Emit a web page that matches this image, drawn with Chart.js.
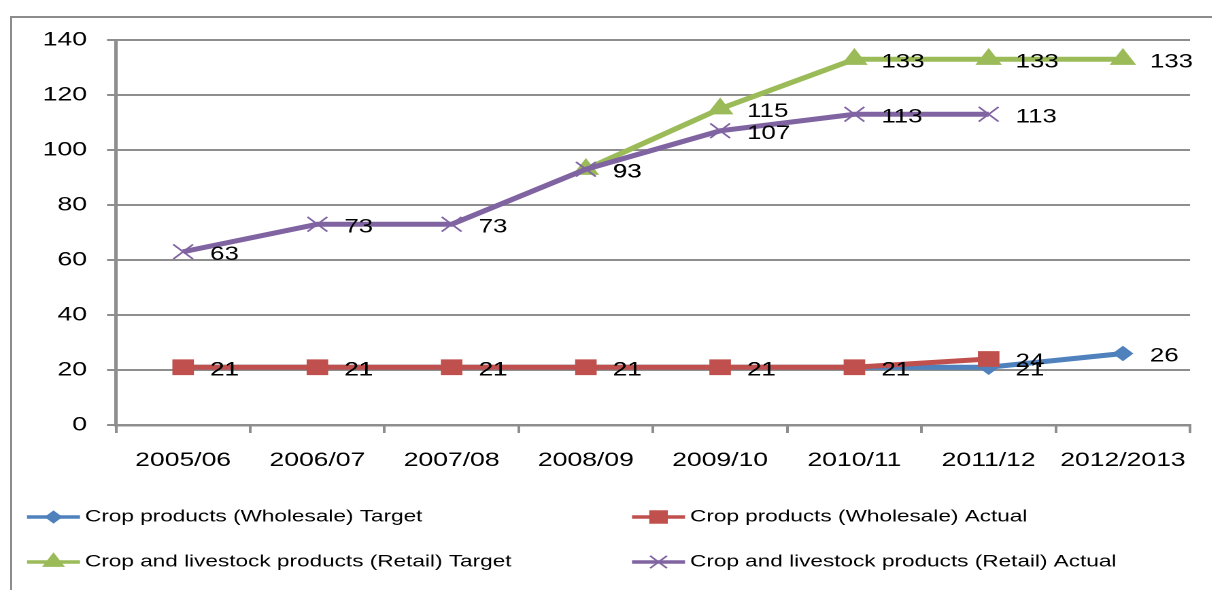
<!DOCTYPE html>
<html>
<head>
<meta charset="utf-8">
<script src="https://cdn.jsdelivr.net/npm/chart.js@4.4.0/dist/chart.umd.min.js"></script>
<style>
html, body { margin: 0; padding: 0; background: #fff; overflow: hidden; }
#frame { position: absolute; left: 10px; top: 16px; width: 1300px; height: 700px;
         border-left: 2px solid #8c8c8c; border-top: 2px solid #8c8c8c; }
#wrap { position: absolute; left: 0; top: 0; height: 590px; transform-origin: 0 0; }
</style>
</head>
<body>
<div id="frame"></div>
<div id="wrap"><canvas id="chart"></canvas></div>
<script>
const categories = ['2005/06', '2006/07', '2007/08', '2008/09', '2009/10', '2010/11', '2011/12', '2012/2013']
const wholesaleTarget = [21, 21, 21, 21, 21, 21, 21, 26]
const wholesaleActual = [21, 21, 21, 21, 21, 21, 24, null]
const retailTarget = [null, null, null, 93, 115, 133, 133, 133]
const retailActual = [63, 73, 73, 93, 107, 113, 113, null]
const yTicks = [0, 20, 40, 60, 80, 100, 120, 140]

// the original picture is stretched sideways, so draw narrow and scale up
const S = 1.36
const W = 1212 / S
const wrap = document.getElementById('wrap')
wrap.style.width = W + 'px'
wrap.style.transform = 'scaleX(' + S + ')'

const FONT = '"Liberation Sans", Arial, sans-serif'
const GRID = '#8e8e8e'

const valueLabels = {
    id: 'valueLabels',
    afterDatasetsDraw(chart) {
        const ctx = chart.ctx
        ctx.save()
        ctx.font = '19px ' + FONT
        ctx.fillStyle = '#000'
        ctx.textBaseline = 'middle'
        ctx.textAlign = 'left'
        chart.data.datasets.forEach((ds, i) => {
            chart.getDatasetMeta(i).data.forEach((pt, j) => {
                if (ds.data[j] == null) return
                ctx.fillText(String(ds.data[j]), pt.x + 27 / S, pt.y + 3)
            })
        })
        ctx.restore()
    }
}

// legend in two fixed columns like the original
const legendSpots = [
    { x: 27, y: 517 }, { x: 632, y: 517 },
    { x: 27, y: 562 }, { x: 632, y: 562 }
]
const boxLegend = {
    id: 'boxLegend',
    afterDraw(chart) {
        const ctx = chart.ctx
        ctx.save()
        chart.data.datasets.forEach((ds, i) => {
            const spot = legendSpots[i]
            const x0 = spot.x / S, x1 = (spot.x + 53) / S, y = spot.y
            ctx.strokeStyle = ds.borderColor
            ctx.lineWidth = 3.5
            ctx.beginPath()
            ctx.moveTo(x0, y)
            ctx.lineTo(x1, y)
            ctx.stroke()
            ctx.fillStyle = ds.pointBackgroundColor
            ctx.strokeStyle = ds.pointBorderColor
            ctx.lineWidth = ds.pointBorderWidth
            Chart.helpers.drawPoint(ctx, {
                pointStyle: ds.pointStyle,
                radius: ds.pointRadius * 0.85,
                borderWidth: ds.pointBorderWidth,
                rotation: 0
            }, (x0 + x1) / 2, y)
            ctx.fillStyle = '#000'
            ctx.font = '16.6px ' + FONT
            ctx.textBaseline = 'middle'
            ctx.textAlign = 'left'
            ctx.fillText(ds.label, (spot.x + 58) / S, y)
        })
        ctx.restore()
    }
}

function line(label, data, color, style, radius, order) {
    return {
        label: label,
        data: data,
        borderColor: color,
        backgroundColor: color,
        borderWidth: 5,
        pointStyle: style,
        pointRadius: radius,
        pointHoverRadius: radius,
        pointBackgroundColor: color,
        pointBorderColor: color,
        pointBorderWidth: style === 'crossRot' ? 1.5 : 1,
        tension: 0,
        spanGaps: false,
        order: order
    }
}

new Chart(document.getElementById('chart'), {
    type: 'line',
    data: {
        labels: categories,
        datasets: [
            line('Crop products (Wholesale) Target', wholesaleTarget, '#4F81BD', 'rectRot', 7, 3),
            line('Crop products (Wholesale) Actual', wholesaleActual, '#C0504D', 'rect', 10.5, 2),
            line('Crop and livestock products (Retail) Target', retailTarget, '#9BBB59', 'triangle', 10.3, 1),
            line('Crop and livestock products (Retail) Actual', retailActual, '#8064A2', 'crossRot', 10.3, 0)
        ]
    },
    options: {
        responsive: true,
        maintainAspectRatio: false,
        animation: false,
        devicePixelRatio: 2,
        layout: {
            padding: { top: 40, right: 22 / S, bottom: 0, left: 0 }
        },
        plugins: {
            legend: { display: false },
            tooltip: { enabled: false }
        },
        scales: {
            x: {
                offset: true,
                grid: {
                    offset: true,
                    drawOnChartArea: false,
                    drawTicks: true,
                    tickLength: 8,
                    color: GRID,
                    lineWidth: 2
                },
                border: { color: GRID, width: 2.5 },
                ticks: {
                    color: '#000',
                    font: { family: FONT, size: 19.5 },
                    padding: 16,
                    maxRotation: 0,
                    autoSkip: false
                },
                afterFit: scale => { scale.height = 165 }
            },
            y: {
                min: 0,
                max: 140,
                afterBuildTicks: scale => { scale.ticks = yTicks.map(v => ({ value: v })) },
                grid: {
                    color: GRID,
                    lineWidth: 2,
                    tickLength: 9 / S
                },
                border: { color: GRID, width: 2.5 },
                ticks: {
                    color: '#000',
                    font: { family: FONT, size: 19.5 },
                    padding: 20 / S
                },
                afterFit: scale => { scale.width = 116 / S }
            }
        }
    },
    plugins: [valueLabels, boxLegend]
})
</script>
</body>
</html>
